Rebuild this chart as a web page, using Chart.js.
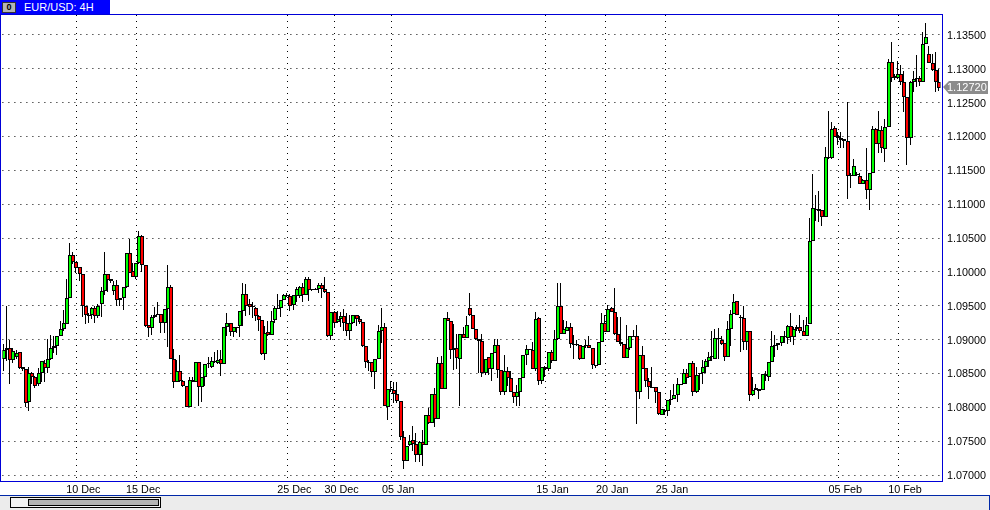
<!DOCTYPE html>
<html>
<head>
<meta charset="utf-8">
<title>EUR/USD: 4H</title>
<script src="https://cdn.jsdelivr.net/npm/chart.js@4"></script>
<style>
    html, body { margin: 0; padding: 0; background: #fff; overflow: hidden; }
    #wrap { position: relative; width: 990px; height: 510px; font-family: "Liberation Sans", sans-serif; }
    #myChart { position: absolute; left: 0; top: 0; }
    #frame { position: absolute; left: 0; top: 14px; width: 941px; height: 466px; border: 1px solid #0000d8; }
    #tab { position: absolute; left: 0; top: 0; width: 110px; height: 14px; background: #0000ff; color: #fff; font-size: 11px; line-height: 14px; }
    #tab span { position: absolute; left: 24px; top: 0; white-space: nowrap; }
    #tabBtn { position: absolute; left: 2px; top: 2px; width: 12px; height: 9px; background: #b4b4b4; border: 1px solid #333; color: #000; font-size: 9px; line-height: 9px; font-weight: bold; text-align: center; }
    #bottom { position: absolute; left: 0; top: 495px; width: 990px; height: 15px; background: #ececec; border-top: 1px solid #0028a8; border-right: 1px solid #0028a8; box-sizing: border-box; }
    #scroll { position: absolute; left: 10px; top: 1px; width: 149px; height: 9px; background: #f2f2f2; border: 1px solid #000; }
    #thumb { position: absolute; left: 17px; top: 1px; width: 129px; height: 5px; background: #b4b4b4; border: 1px solid #000; }
</style>
</head>
<body>
<div id="wrap">
    <canvas id="myChart" width="990" height="510"></canvas>
    <div id="frame"></div>
    <div id="tab"><div id="tabBtn">0</div><span>EUR/USD: 4H</span></div>
    <div id="bottom"><div id="scroll"><div id="thumb"></div></div></div>
</div>
<script>
var opens = [
    1.0872,1.0885,1.0887,1.0870,1.0874,1.0881,1.0859,1.0856,1.0808,1.0850,
    1.0845,1.0834,1.0850,1.0866,1.0858,1.0871,1.0887,1.0891,1.0906,1.0915,
    1.0923,1.0961,1.1025,1.1014,1.1007,1.0997,1.0950,1.0937,1.0937,1.0946,
    1.0935,1.0952,1.0972,1.0997,1.0989,1.0972,1.0981,1.0958,1.0961,1.0977,
    1.1028,1.1001,1.0992,1.1013,1.1053,1.1010,1.0921,1.0917,1.0933,1.0937,
    1.0938,1.0924,1.0945,1.0977,1.0872,1.0838,1.0853,1.0839,1.0832,1.0801,
    1.0841,1.0838,1.0867,1.0830,1.0845,1.0864,1.0859,1.0867,1.0865,1.0871,
    1.0864,1.0918,1.0925,1.0911,1.0917,1.0920,1.0942,1.0967,1.0952,1.0949,
    1.0947,1.0935,1.0929,1.0879,1.0911,1.0907,1.0929,1.0946,1.0947,1.0959,
    1.0966,1.0965,1.0951,1.0965,1.0965,1.0977,1.0966,1.0989,1.0973,1.0974,
    1.0975,1.0981,1.0975,1.0971,1.0905,1.0941,1.0926,1.0931,1.0935,1.0924,
    1.0913,1.0925,1.0936,1.0931,1.0926,1.0890,1.0867,1.0867,1.0852,1.0872,
    1.0913,1.0918,1.0801,1.0827,1.0825,1.0820,1.0810,1.0756,1.0721,1.0744,
    1.0752,1.0746,1.0730,1.0749,1.0744,1.0789,1.0777,1.0819,1.0783,1.0866,
    1.0827,1.0932,1.0927,1.0884,1.0887,1.0871,1.0908,1.0903,1.0946,1.0937,
    1.0915,1.0901,1.0898,1.0850,1.0874,1.0856,1.0880,1.0892,1.0855,1.0822,
    1.0853,1.0843,1.0823,1.0815,1.0822,1.0844,1.0877,1.0886,1.0885,1.0857,
    1.0932,1.0839,1.0860,1.0856,1.0881,1.0868,1.0901,1.0950,1.0909,1.0912,
    1.0918,1.0893,1.0892,1.0892,1.0872,1.0891,1.0892,1.0888,1.0863,1.0862,
    1.0896,1.0924,1.0911,1.0946,1.0941,1.0909,1.0897,1.0893,1.0873,1.0887,
    1.0906,1.0905,1.0823,1.0877,1.0858,1.0839,1.0830,1.0830,1.0822,1.0788,
    1.0796,1.0795,1.0812,1.0813,1.0818,1.0834,1.0835,1.0851,1.0845,1.0866,
    1.0823,1.0849,1.0850,1.0860,1.0868,1.0875,1.0871,1.0903,1.0900,1.0895,
    1.0875,1.0915,1.0938,1.0957,1.0934,1.0932,1.0897,1.0913,1.0818,1.0825,
    1.0827,1.0826,1.0849,1.0845,1.0867,1.0891,1.0892,1.0895,1.0905,1.0903,
    1.0920,1.0904,1.0915,1.0918,1.0913,1.0906,1.0923,1.1046,1.1093,1.1093,
    1.1091,1.1081,1.1168,1.1168,1.1212,1.1200,1.1198,1.1196,1.1194,1.1142,
    1.1142,1.1143,1.1142,1.1130,1.1135,1.1121,1.1146,1.1211,1.1189,1.1209,
    1.1181,1.1214,1.1310,1.1286,1.1287,1.1292,1.1280,1.1258,1.1198,1.1280,
    1.1285,1.1287,1.1280,1.1337,1.1322,1.1309,1.1298,1.1280
];
var closes = [
    1.0885,1.0887,1.0870,1.0883,1.0880,1.0858,1.0856,1.0807,1.0850,1.0845,
    1.0832,1.0850,1.0868,1.0858,1.0871,1.0887,1.0891,1.0906,1.0915,1.0924,
    1.0961,1.1025,1.1014,1.1006,1.0997,1.0949,1.0936,1.0936,1.0946,1.0935,
    1.0950,1.0972,1.0997,1.0988,1.0986,1.0981,1.0959,1.0961,1.0977,1.1028,
    1.0999,1.0992,1.1013,1.1053,1.1010,1.0920,1.0917,1.0933,1.0937,1.0938,
    1.0924,1.0945,1.0977,1.0872,1.0838,1.0853,1.0839,1.0832,1.0801,1.0841,
    1.0838,1.0867,1.0830,1.0845,1.0864,1.0865,1.0868,1.0869,1.0870,1.0864,
    1.0918,1.0924,1.0911,1.0918,1.0919,1.0942,1.0967,1.0950,1.0948,1.0948,
    1.0935,1.0929,1.0879,1.0910,1.0907,1.0928,1.0947,1.0947,1.0959,1.0966,
    1.0965,1.0950,1.0966,1.0975,1.0978,1.0966,1.0989,1.0973,1.0974,1.0975,
    1.0981,1.0975,1.0971,1.0905,1.0941,1.0924,1.0931,1.0935,1.0924,1.0913,
    1.0925,1.0936,1.0931,1.0926,1.0890,1.0867,1.0865,1.0852,1.0872,1.0912,
    1.0918,1.0802,1.0827,1.0825,1.0820,1.0810,1.0756,1.0721,1.0743,1.0750,
    1.0746,1.0730,1.0749,1.0744,1.0789,1.0777,1.0819,1.0783,1.0866,1.0827,
    1.0932,1.0927,1.0884,1.0887,1.0873,1.0908,1.0903,1.0922,1.0937,1.0915,
    1.0901,1.0898,1.0850,1.0872,1.0856,1.0880,1.0892,1.0855,1.0822,1.0853,
    1.0843,1.0823,1.0815,1.0822,1.0844,1.0877,1.0886,1.0885,1.0857,1.0930,
    1.0839,1.0860,1.0856,1.0881,1.0868,1.0901,1.0950,1.0909,1.0915,1.0918,
    1.0893,1.0892,1.0893,1.0872,1.0890,1.0892,1.0888,1.0863,1.0862,1.0896,
    1.0924,1.0911,1.0945,1.0941,1.0908,1.0897,1.0893,1.0873,1.0887,1.0906,
    1.0905,1.0823,1.0877,1.0856,1.0839,1.0830,1.0830,1.0822,1.0790,1.0797,
    1.0795,1.0811,1.0813,1.0818,1.0834,1.0835,1.0851,1.0844,1.0866,1.0823,
    1.0848,1.0851,1.0860,1.0868,1.0875,1.0876,1.0903,1.0901,1.0894,1.0875,
    1.0915,1.0938,1.0955,1.0936,1.0932,1.0897,1.0913,1.0818,1.0825,1.0828,
    1.0824,1.0849,1.0846,1.0867,1.0891,1.0892,1.0895,1.0905,1.0906,1.0920,
    1.0904,1.0915,1.0918,1.0913,1.0906,1.0921,1.1046,1.1094,1.1092,1.1090,
    1.1081,1.1170,1.1170,1.1211,1.1199,1.1198,1.1195,1.1194,1.1142,1.1143,
    1.1156,1.1144,1.1130,1.1135,1.1121,1.1146,1.1211,1.1189,1.1209,1.1183,
    1.1214,1.1310,1.1286,1.1290,1.1292,1.1280,1.1258,1.1198,1.1280,1.1285,
    1.1287,1.1280,1.1337,1.1347,1.1308,1.1298,1.1280,1.1272
];
var highs = [
    1.0894,1.0950,1.0900,1.0887,1.0885,1.0882,1.0859,1.0857,1.0860,1.0852,
    1.0846,1.0858,1.0868,1.0870,1.0901,1.0907,1.0905,1.0906,1.0927,1.0944,
    1.0989,1.1043,1.1030,1.1014,1.1007,1.0997,1.0950,1.0940,1.0948,1.0950,
    1.0952,1.0978,1.1030,1.0997,1.0990,1.0986,1.0988,1.0961,1.0977,1.1028,
    1.1049,1.1013,1.1013,1.1060,1.1055,1.1010,1.0921,1.0937,1.0948,1.0956,
    1.0938,1.0945,1.1010,1.0981,1.0886,1.0870,1.0877,1.0840,1.0832,1.0845,
    1.0845,1.0867,1.0867,1.0845,1.0864,1.0875,1.0875,1.0882,1.0884,1.0884,
    1.0918,1.0939,1.0925,1.0918,1.0919,1.0942,1.0983,1.0982,1.0960,1.0955,
    1.0948,1.0937,1.0929,1.0920,1.0927,1.0942,1.0950,1.0967,1.0959,1.0968,
    1.0969,1.0967,1.0966,1.0977,1.0979,1.0983,1.0993,1.0993,1.0975,1.0976,
    1.0983,1.0983,1.0992,1.0971,1.0941,1.0942,1.0942,1.0941,1.0945,1.0940,
    1.0937,1.0937,1.0937,1.0935,1.0926,1.0890,1.0870,1.0867,1.0872,1.0921,
    1.0946,1.0925,1.0827,1.0839,1.0837,1.0838,1.0810,1.0765,1.0743,1.0759,
    1.0773,1.0762,1.0750,1.0767,1.0789,1.0799,1.0819,1.0829,1.0875,1.0876,
    1.0932,1.0941,1.0927,1.0923,1.0908,1.0908,1.0918,1.0935,1.0969,1.0937,
    1.0915,1.0901,1.0909,1.0872,1.0874,1.0880,1.0901,1.0901,1.0855,1.0877,
    1.0860,1.0853,1.0823,1.0833,1.0844,1.0877,1.0892,1.0886,1.0897,1.0941,
    1.0934,1.0860,1.0861,1.0881,1.0885,1.0914,1.0983,1.0983,1.0929,1.0927,
    1.0924,1.0907,1.0900,1.0892,1.0890,1.0900,1.0905,1.0888,1.0863,1.0896,
    1.0939,1.0937,1.0951,1.0948,1.0976,1.0934,1.0934,1.0893,1.0922,1.0906,
    1.0914,1.0922,1.0877,1.0891,1.0858,1.0843,1.0860,1.0830,1.0822,1.0797,
    1.0797,1.0811,1.0826,1.0835,1.0843,1.0835,1.0856,1.0856,1.0866,1.0868,
    1.0860,1.0851,1.0870,1.0872,1.0882,1.0912,1.0915,1.0917,1.0905,1.0895,
    1.0928,1.0944,1.0968,1.0957,1.0937,1.0950,1.0913,1.0913,1.0845,1.0835,
    1.0827,1.0849,1.0853,1.0867,1.0913,1.0907,1.0895,1.0905,1.0912,1.0922,
    1.0940,1.0918,1.0922,1.0937,1.0929,1.0933,1.1080,1.1145,1.1114,1.1119,
    1.1091,1.1184,1.1238,1.1222,1.1216,1.1207,1.1206,1.1197,1.1251,1.1146,
    1.1166,1.1147,1.1146,1.1137,1.1183,1.1146,1.1215,1.1212,1.1237,1.1215,
    1.1226,1.1314,1.1340,1.1293,1.1311,1.1305,1.1297,1.1258,1.1282,1.1297,
    1.1321,1.1289,1.1354,1.1367,1.1334,1.1322,1.1325,1.1300
];
var lows = [
    1.0853,1.0868,1.0835,1.0866,1.0871,1.0857,1.0854,1.0801,1.0795,1.0835,
    1.0829,1.0831,1.0838,1.0838,1.0851,1.0870,1.0880,1.0877,1.0905,1.0913,
    1.0923,1.0961,1.1012,1.0998,1.0986,1.0933,1.0923,1.0924,1.0930,1.0925,
    1.0932,1.0933,1.0966,1.0971,1.0984,1.0966,1.0950,1.0950,1.0944,1.0976,
    1.0999,1.0992,1.0990,1.1012,1.1000,1.0918,1.0904,1.0907,1.0932,1.0936,
    1.0910,1.0910,1.0889,1.0872,1.0829,1.0838,1.0838,1.0830,1.0801,1.0801,
    1.0837,1.0837,1.0802,1.0808,1.0831,1.0858,1.0858,1.0866,1.0864,1.0846,
    1.0864,1.0905,1.0905,1.0904,1.0910,1.0904,1.0920,1.0935,1.0937,1.0932,
    1.0927,1.0913,1.0877,1.0870,1.0905,1.0907,1.0925,1.0945,1.0934,1.0958,
    1.0963,1.0942,1.0944,1.0955,1.0961,1.0955,1.0966,1.0957,1.0972,1.0973,
    1.0969,1.0961,1.0969,1.0904,1.0900,1.0918,1.0925,1.0918,1.0913,1.0905,
    1.0900,1.0923,1.0920,1.0923,1.0889,1.0858,1.0854,1.0845,1.0827,1.0871,
    1.0895,1.0802,1.0781,1.0823,1.0806,1.0807,1.0752,1.0709,1.0720,1.0743,
    1.0735,1.0719,1.0719,1.0713,1.0744,1.0776,1.0777,1.0771,1.0783,1.0827,
    1.0827,1.0927,1.0871,1.0855,1.0857,1.0802,1.0903,1.0903,1.0935,1.0915,
    1.0900,1.0851,1.0845,1.0847,1.0848,1.0839,1.0880,1.0843,1.0818,1.0818,
    1.0831,1.0823,1.0806,1.0802,1.0802,1.0844,1.0863,1.0884,1.0857,1.0854,
    1.0833,1.0835,1.0845,1.0853,1.0865,1.0868,1.0900,1.0909,1.0909,1.0912,
    1.0887,1.0872,1.0890,1.0870,1.0872,1.0887,1.0887,1.0856,1.0858,1.0862,
    1.0896,1.0911,1.0911,1.0941,1.0907,1.0896,1.0891,1.0873,1.0873,1.0885,
    1.0904,1.0776,1.0812,1.0856,1.0830,1.0812,1.0829,1.0807,1.0789,1.0788,
    1.0789,1.0787,1.0803,1.0812,1.0808,1.0833,1.0835,1.0835,1.0845,1.0817,
    1.0821,1.0826,1.0835,1.0850,1.0860,1.0869,1.0871,1.0872,1.0892,1.0868,
    1.0875,1.0890,1.0938,1.0936,1.0882,1.0885,1.0885,1.0809,1.0817,1.0825,
    1.0812,1.0826,1.0839,1.0839,1.0867,1.0874,1.0885,1.0890,1.0895,1.0894,
    1.0896,1.0892,1.0912,1.0910,1.0906,1.0906,1.0923,1.1046,1.1075,1.1073,
    1.1068,1.1081,1.1167,1.1166,1.1199,1.1188,1.1183,1.1183,1.1107,1.1124,
    1.1141,1.1141,1.1130,1.1130,1.1107,1.1092,1.1146,1.1189,1.1175,1.1176,
    1.1162,1.1214,1.1281,1.1283,1.1285,1.1276,1.1236,1.1158,1.1188,1.1265,
    1.1273,1.1274,1.1280,1.1337,1.1308,1.1296,1.1266,1.1267
];
var dateLabels = ['10 Dec', '15 Dec', '25 Dec', '30 Dec', '05 Jan', '15 Jan', '20 Jan', '25 Jan', '05 Feb', '10 Feb'];
var dateBars = [23, 42, 90, 105, 123, 172, 191, 210, 265, 284];
var priceTicks = [1.07, 1.075, 1.08, 1.085, 1.09, 1.095, 1.10, 1.105, 1.11, 1.115, 1.12, 1.125, 1.13, 1.135];
var lastPrice = closes[closes.length - 1];

var categories = opens.map(function (o, i) {
    var k = dateBars.indexOf(i);
    return k >= 0 ? dateLabels[k] : '';
});
var fontSet = { family: '"Liberation Sans", sans-serif', size: 10.8 };

// snap the bars to whole pixels, wick sits one half pixel left like the terminal does
var snapBars = {
    id: 'snapBars',
    afterDatasetsUpdate: function (chart) {
        chart.data.datasets.forEach(function (ds, n) {
            chart.getDatasetMeta(n).data.forEach(function (el) {
                el.x = Math.round(el.x) - (ds.label == 'wick' ? 0.5 : 0);
                el.y = Math.round(el.y);
                el.base = Math.round(el.base);
                if (el.y == el.base) el.base += 1;
            });
        });
    }
};

// grey price tag on the right axis
var priceTag = {
    id: 'priceTag',
    afterDraw: function (chart) {
        var c = chart.ctx;
        var y = Math.round(chart.scales.y.getPixelForValue(lastPrice));
        c.save();
        c.fillStyle = '#8c8c8c';
        c.beginPath();
        c.moveTo(943, y - 1);
        c.lineTo(949, y - 7);
        c.lineTo(988, y - 7);
        c.lineTo(988, y + 6);
        c.lineTo(949, y + 6);
        c.closePath();
        c.fill();
        c.fillStyle = '#fff';
        c.font = '11px "Liberation Sans", sans-serif';
        c.textBaseline = 'middle';
        c.fillText(lastPrice.toFixed(5), 947, y);
        c.restore();
    }
};

var ctx = document.getElementById('myChart').getContext('2d');
var myChart = new Chart(ctx, {
    type: 'bar',
    data: {
        labels: categories,
        datasets: [{
            label: 'wick',
            data: lows.map(function (l, i) { return [l, highs[i]]; }),
            backgroundColor: '#000',
            borderWidth: 0,
            grouped: false,
            barPercentage: 0.5,
            maxBarThickness: 1,
            inflateAmount: 0,
            order: 2
        }, {
            label: 'body',
            data: opens.map(function (o, i) { return [o, closes[i]]; }),
            backgroundColor: opens.map(function (o, i) { return closes[i] >= o ? '#00ff00' : '#ff0000'; }),
            borderColor: '#000',
            borderWidth: 1,
            borderSkipped: false,
            grouped: false,
            barPercentage: 2,
            maxBarThickness: 4,
            inflateAmount: 0,
            order: 1
        }]
    },
    options: {
        responsive: false,
        animation: false,
        layout: { padding: { left: 2.4, top: 15 } },
        plugins: { legend: { display: false }, tooltip: { enabled: false }, title: { display: false } },
        scales: {
            x: {
                offset: true,
                border: { display: false, dash: [1, 5] },
                grid: { offset: false, color: '#000', drawTicks: false, lineWidth: 1 },
                ticks: { autoSkip: false, maxRotation: 0, color: '#000', font: fontSet, padding: 2, labelOffset: 7 },
                afterBuildTicks: function (scale) {
                    scale.ticks = dateBars.map(function (b) { return { value: b }; });
                },
                afterFit: function (scale) { scale.height = 28; }
            },
            y: {
                position: 'right',
                min: 1.06897,
                max: 1.13794,
                border: { display: false, dash: [1, 5] },
                grid: { color: '#000', drawTicks: false, lineWidth: 1 },
                ticks: {
                    color: '#000',
                    font: fontSet,
                    padding: 6.5,
                    labelOffset: 1,
                    callback: function (v) { return v.toFixed(5); }
                },
                afterBuildTicks: function (scale) {
                    scale.ticks = priceTicks.map(function (p) { return { value: p }; });
                },
                afterFit: function (scale) { scale.width = 49.5; }
            }
        }
    },
    plugins: [snapBars, priceTag]
});
</script>
</body>
</html>
